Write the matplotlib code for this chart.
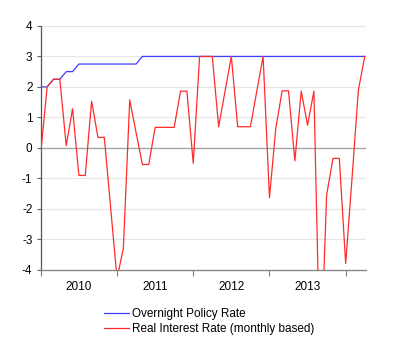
import matplotlib
matplotlib.use("Agg")
import matplotlib.pyplot as plt
import numpy as np

plt.rcParams['font.family'] = ['Liberation Sans', 'DejaVu Sans']

years = ["2010", "2011", "2012", "2013"]
# monthly observations, Jan 2010 .. Apr 2014
policy_rate = [2.0, 2.0, 2.25, 2.25, 2.5, 2.5] + [2.75] * 10 + [3.0] * 36
real_rate = [-0.15, 2.0, 2.25, 2.25, 0.07, 1.28, -0.91, -0.91, 1.53, 0.34,
             0.34, -1.98, -4.3, -3.3, 1.57, 0.5, -0.55, -0.55, 0.67, 0.67,
             0.67, 0.67, 1.86, 1.86, -0.51, 3.0, 3.0, 3.0, 0.69, 1.85,
             3.0, 0.69, 0.69, 0.69, 1.85, 3.0, -1.64, 0.64, 1.87, 1.87,
             -0.43, 1.86, 0.74, 1.86, -7.5, -1.56, -0.35, -0.35, -3.8, -1.0,
             1.89, 3.0]

x = np.arange(len(real_rate))

fig = plt.figure(figsize=(4.0, 3.59), dpi=100)
ax = fig.add_axes([0.102, 0.2493, 0.813, 0.6783])

for y in range(-3, 5):
    if y == 0:
        continue
    ax.axhline(y, color='#e6e6e6', lw=0.9, zorder=0)
ax.axhline(0, color='#a6a6a6', lw=1.0, zorder=1)

l1, = ax.plot(x, policy_rate, color='#3d3dff', lw=0.9, zorder=3,
              label='Overnight Policy Rate')
l2, = ax.plot(x, real_rate, color='#ff2b2b', lw=0.9, zorder=4,
              label='Real Interest Rate (monthly based)')

ax.set_ylim(-4, 4)
ax.set_xlim(0, 51.2)
ax.set_yticks(range(-4, 5))
ax.set_yticklabels([str(v) for v in range(-4, 5)])

ax.set_xticks([0, 12, 24, 36, 48])
ax.set_xticklabels([])
ax.set_xticks([6, 18, 30, 42], minor=True)
ax.set_xticklabels(years, minor=True)
ax.tick_params(axis='x', which='minor', length=0, pad=8, labelsize=8.5)
ax.tick_params(axis='x', which='major', length=4, width=0.8, color='#808080')
ax.tick_params(axis='y', length=3, width=0.8, color='#606060', labelsize=8.5, pad=3)

for s in ['top', 'right']:
    ax.spines[s].set_visible(False)
ax.spines['left'].set_color('#555555')
ax.spines['left'].set_linewidth(0.9)
ax.spines['bottom'].set_color('#888888')
ax.spines['bottom'].set_linewidth(1.0)

fig.legend(handles=[l1, l2], loc='upper left', bbox_to_anchor=(0.26, 0.142),
           frameon=False, fontsize=8.5, handlelength=2.1, handletextpad=0.3,
           labelspacing=0.25, borderaxespad=0, borderpad=0)

fig.savefig('out.png', dpi=100)
